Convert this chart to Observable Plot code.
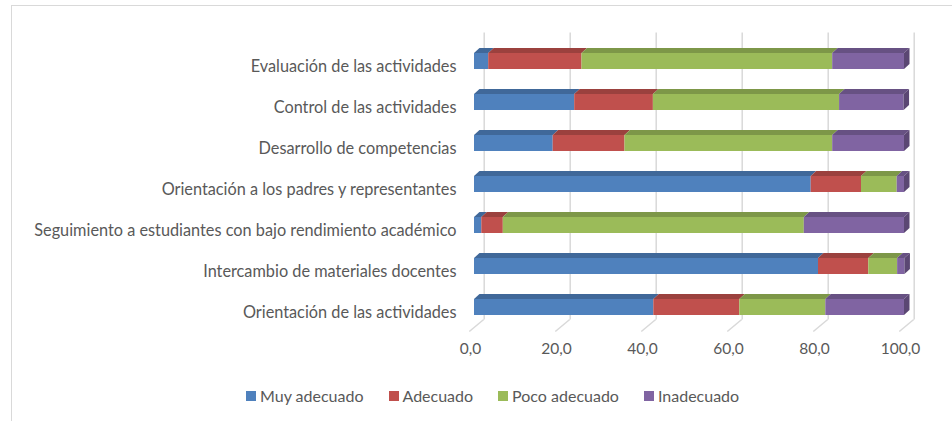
<!DOCTYPE html>
<html><head><meta charset="utf-8">
<script src="https://cdn.jsdelivr.net/npm/d3@7"></script>
<script src="https://cdn.jsdelivr.net/npm/@observablehq/plot@0.6"></script>
<style>
body{margin:0;background:#fff;}
#wrap{position:relative;width:952px;height:421px;overflow:hidden;font-family:Lato, sans-serif;}
#frame{position:absolute;left:11px;top:5px;width:960px;height:430px;border-top:1.5px solid #d9d9d9;border-left:1.5px solid #d9d9d9;}
#chart{position:absolute;left:0;top:0;}
#legend{position:absolute;top:386px;left:246px;display:flex;gap:25px;font-size:16px;color:#595959;line-height:20px;}
.item{display:flex;align-items:center;}
.sw{width:10px;height:10px;margin-right:4px;}
</style></head><body>
<div id="wrap"><div id="frame"></div><div id="chart"></div><div id="legend"></div></div>
<script>
const categories = ["Evaluación de las actividades", "Control de las actividades", "Desarrollo de competencias", "Orientación a los padres y representantes", "Seguimiento a estudiantes con bajo rendimiento académico", "Intercambio de materiales docentes", "Orientación de las actividades"];
const series = ["Muy adecuado", "Adecuado", "Poco adecuado", "Inadecuado"];
const muyAdecuado = [3.3, 23.3, 18.3, 78.3, 1.7, 80.0, 41.7];
const adecuado = [21.7, 18.3, 16.7, 11.7, 5.0, 11.7, 20.0];
const pocoAdecuado = [58.3, 43.3, 48.3, 8.3, 70.0, 6.7, 20.0];
const inadecuado = [16.7, 15.0, 16.7, 1.7, 23.3, 1.7, 18.3];
const colors = ["#4F81BD", "#C0504D", "#9BBB59", "#8064A2"];
const xTicks = [0, 20, 40, 60, 80, 100];

const seriesValues = [muyAdecuado, adecuado, pocoAdecuado, inadecuado];
const rows = [];
categories.forEach((cat, i) => {
  let acc = 0;
  seriesValues.forEach((vals, s) => {
    const v = vals[i];
    rows.push({cat, series: series[s], color: colors[s], x1: acc, x2: acc + v, last: s === seriesValues.length - 1});
    acc += v;
  });
});

const svgNS = "http://www.w3.org/2000/svg";
const DX = 5.5, DY = 5;

function floorMark(index, scales, values, dims) {
  const g = document.createElementNS(svgNS, "g");
  const yb = dims.height - dims.marginBottom;
  for (const t of xTicks) {
    const x = scales.x(t);
    const l = document.createElementNS(svgNS, "line");
    l.setAttribute("x1", x + 9.7); l.setAttribute("y1", yb - 8);
    l.setAttribute("x2", x - 4.7); l.setAttribute("y2", yb + 4);
    l.setAttribute("stroke", "#d9d9d9"); l.setAttribute("stroke-width", 1.5);
    g.appendChild(l);
  }
  return g;
}

function bevelMark(index, scales) {
  const g = document.createElementNS(svgNS, "g");
  const sx = scales.x, sy = scales.y;
  const bw = typeof sy.bandwidth === "function" ? sy.bandwidth() : 16;
  for (const r of rows) {
    const x1 = sx(r.x1), x2 = sx(r.x2), yT = sy(r.cat), yB = yT + bw;
    const top = document.createElementNS(svgNS, "polygon");
    top.setAttribute("points", `${x1},${yT} ${x2},${yT} ${x2 + DX},${yT - DY} ${x1 + DX},${yT - DY}`);
    top.setAttribute("fill", d3.color(r.color).darker(0.6).formatHex());
    g.appendChild(top);
    if (r.last) {
      const side = document.createElementNS(svgNS, "polygon");
      side.setAttribute("points", `${x2},${yT} ${x2 + DX},${yT - DY} ${x2 + DX},${yB - DY} ${x2},${yB}`);
      side.setAttribute("fill", d3.color(r.color).darker(0.95).formatHex());
      g.appendChild(side);
    }
  }
  return g;
}

const chart = Plot.plot({
  width: 952, height: 372,
  marginLeft: 474, marginRight: 48, marginTop: 40.5, marginBottom: 44.5,
  x: {domain: [0, 100], axis: null},
  y: {domain: categories, axis: null, paddingInner: 0.61, paddingOuter: 0.305, align: 0.5},
  color: {domain: series, range: colors},
  style: {fontFamily: "Lato, sans-serif", fontSize: "15.5px", color: "#595959", background: "transparent"},
  marks: [
    Plot.ruleX(xTicks, {x: d => d, dx: 9.7, dy: -8, stroke: "#d9d9d9", strokeWidth: 1.5}),
    floorMark,
    Plot.barX(rows, {x1: "x1", x2: "x2", y: "cat", fill: "series"}),
    bevelMark,
    Plot.text(xTicks, {x: d => d, text: d => d.toFixed(1).replace(".", ","), frameAnchor: "bottom", dy: 26, dx: -4, fill: "#595959"}),
    Plot.text(categories, {y: d => d, text: d => d, frameAnchor: "left", dx: -18, dy: 5, textAnchor: "end", fill: "#595959", fontSize: 16.3})
  ]
});
document.getElementById("chart").appendChild(chart);

const legend = document.getElementById("legend");
series.forEach((s, i) => {
  const it = document.createElement("div"); it.className = "item";
  const sw = document.createElement("div"); sw.className = "sw"; sw.style.background = colors[i];
  const tx = document.createElement("span"); tx.textContent = s;
  it.appendChild(sw); it.appendChild(tx); legend.appendChild(it);
});
</script>
</body></html>
